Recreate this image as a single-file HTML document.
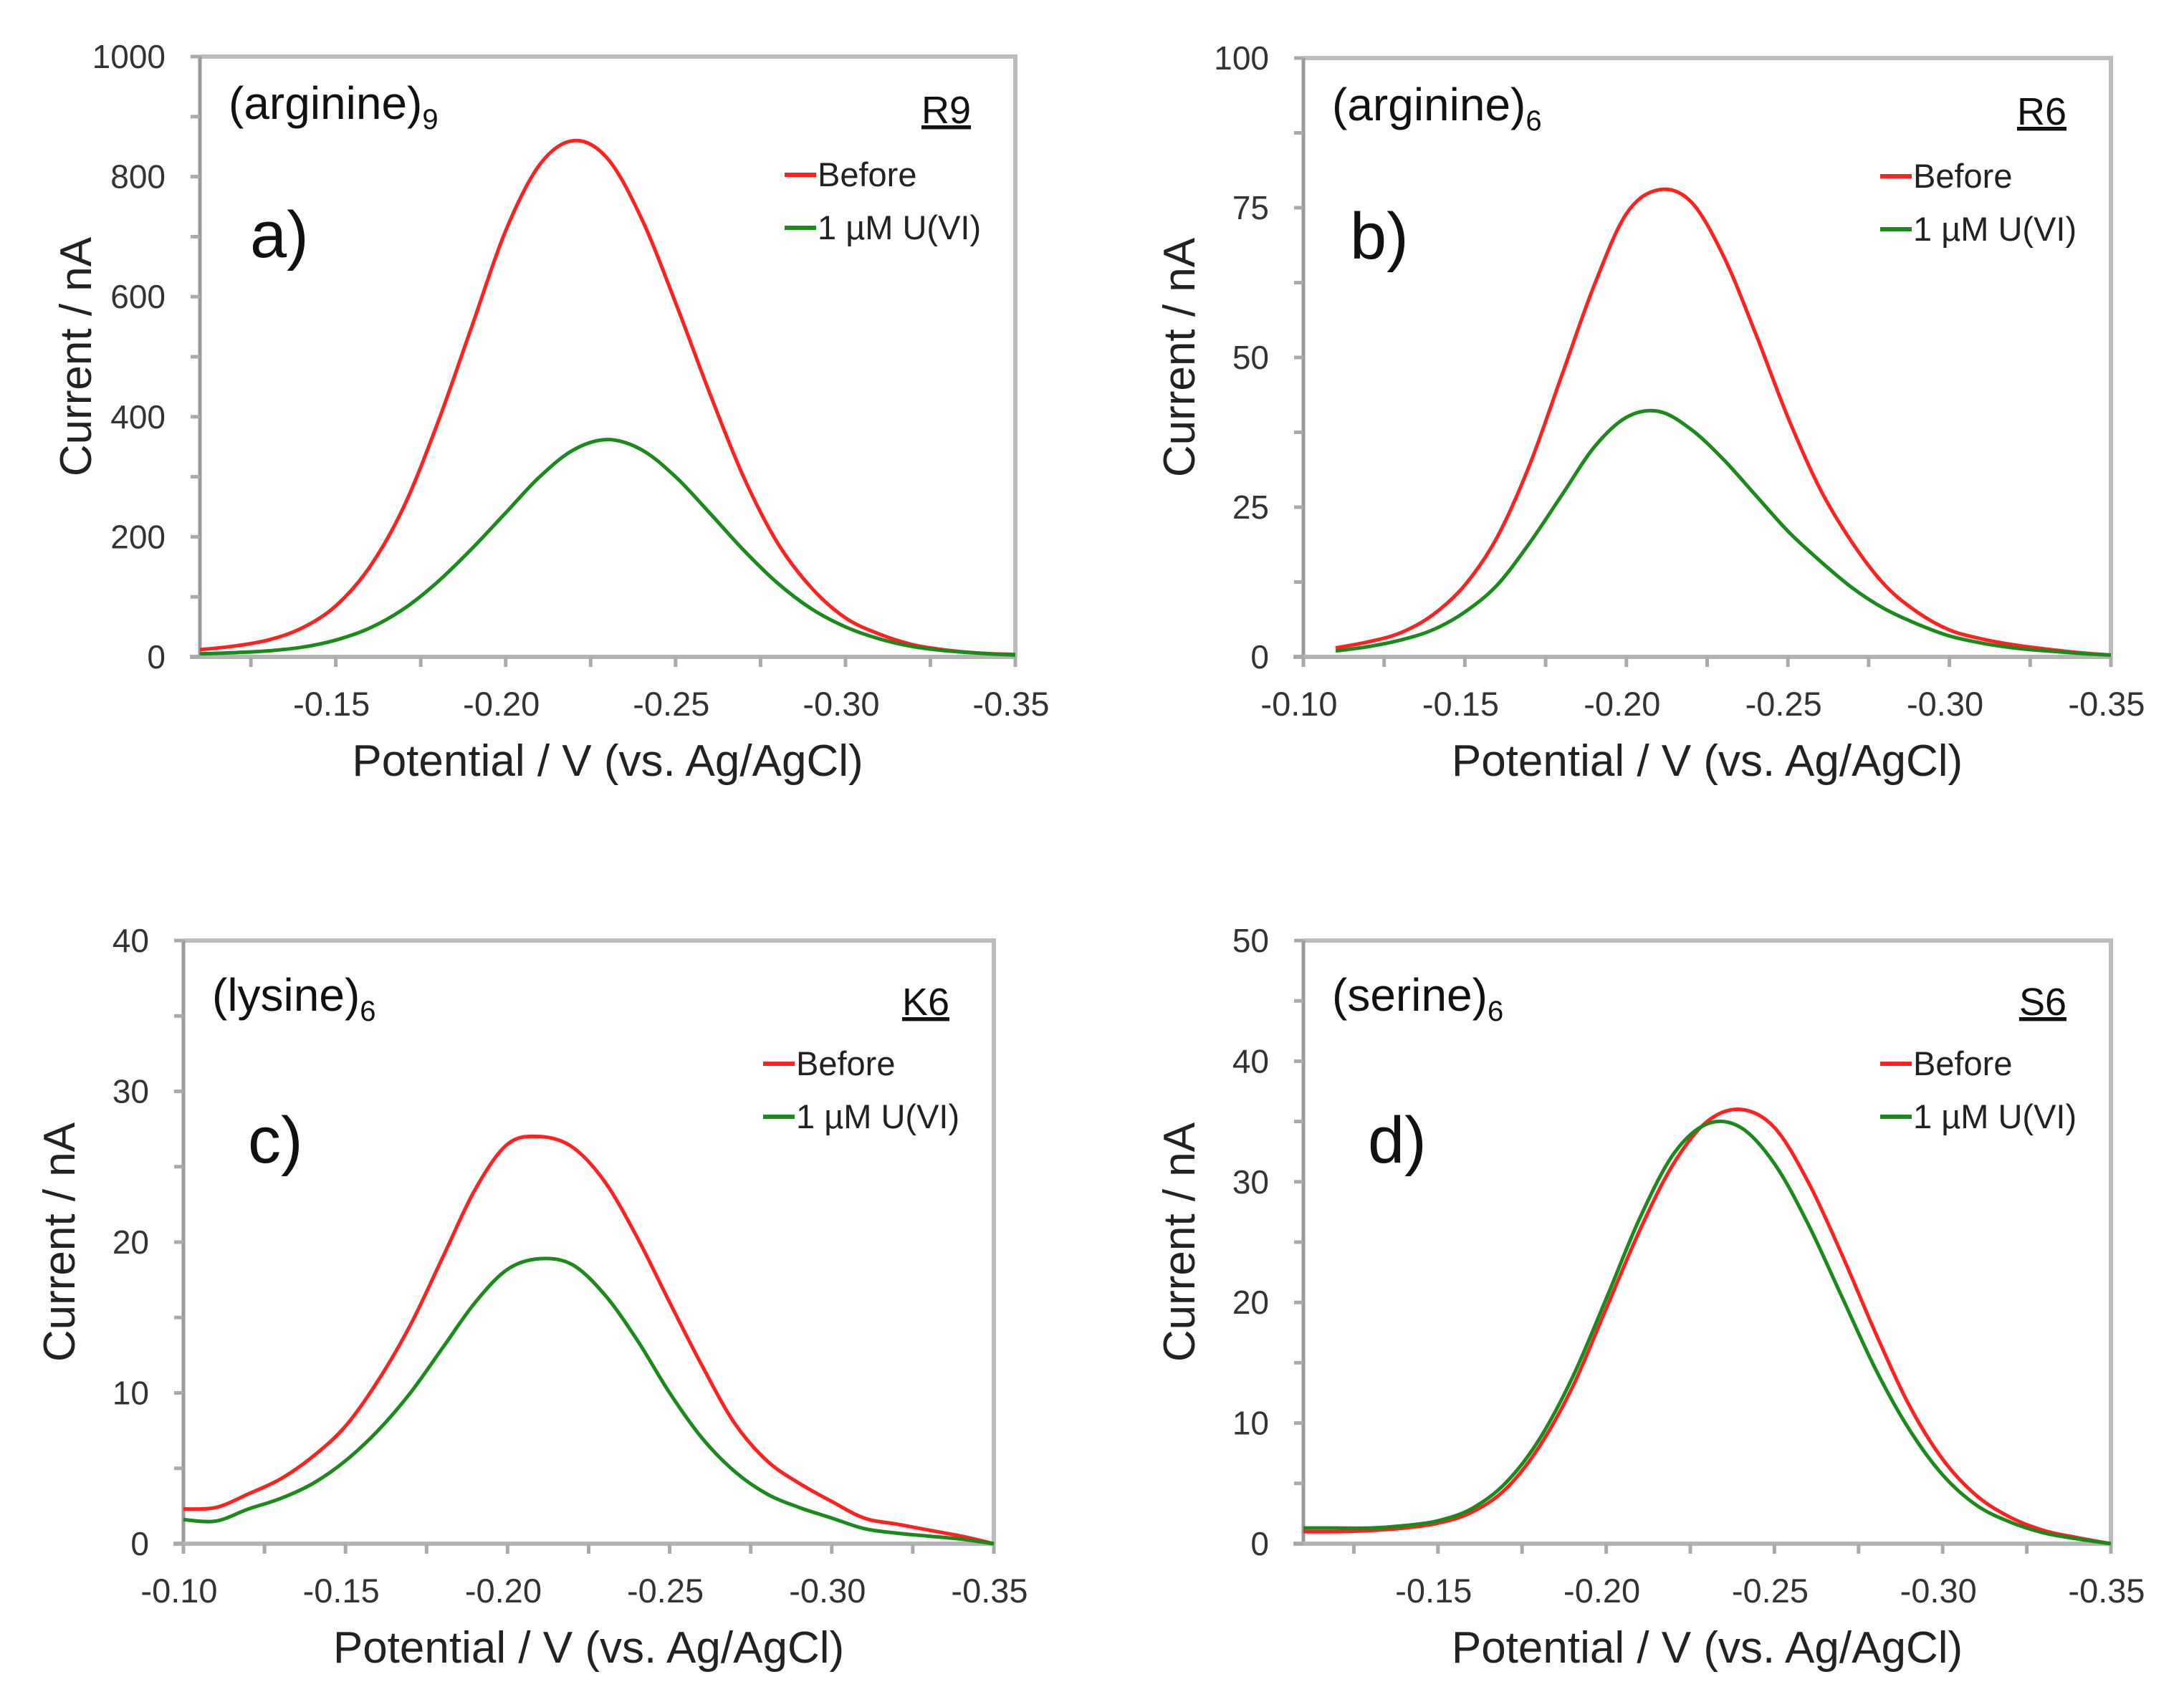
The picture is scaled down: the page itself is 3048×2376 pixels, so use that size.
<!DOCTYPE html>
<html><head><meta charset="utf-8"><style>
body{margin:0;background:#fff;}
svg{display:block;}
text{font-family:"Liberation Sans",sans-serif;}
</style></head><body>
<svg id="fig" width="3048" height="2376" viewBox="0 0 3048 2376" xmlns="http://www.w3.org/2000/svg"></svg>
<script>
// ---- data ----
const xsA = [-0.11,-0.12,-0.13,-0.14,-0.15,-0.16,-0.17,-0.18,-0.19,-0.20,-0.21,-0.22,-0.23,-0.24,-0.25,-0.26,-0.27,-0.28,-0.29,-0.30,-0.31,-0.32,-0.33,-0.34,-0.35];
const beforeA = [12,18,28,48,85,150,250,390,550,710,820,860,830,730,590,440,300,190,115,65,38,20,11,6,4];
const uviA = [5,7,10,16,28,48,80,125,180,240,300,345,362,345,300,240,178,123,80,50,30,17,10,6,3];
const xsB = [-0.11,-0.12,-0.13,-0.14,-0.15,-0.16,-0.17,-0.18,-0.19,-0.20,-0.21,-0.22,-0.23,-0.24,-0.25,-0.26,-0.27,-0.28,-0.29,-0.30,-0.31,-0.32,-0.33,-0.34,-0.35];
const beforeB = [1.5,2.5,4,7,12,20,32,47,62,74,78,76,67,54,40,28,19,12,7.5,4.5,3,2,1.3,0.7,0.3];
const uviB = [1,1.7,2.8,4.5,7.5,12,19,27,35,40,41,38,33,27,21,16,11.5,8,5.5,3.5,2.3,1.5,1,0.6,0.3];
const xsC = [-0.10,-0.11,-0.12,-0.13,-0.14,-0.15,-0.16,-0.17,-0.18,-0.19,-0.20,-0.21,-0.22,-0.23,-0.24,-0.25,-0.26,-0.27,-0.28,-0.29,-0.30,-0.31,-0.32,-0.33,-0.34,-0.35];
const beforeC = [2.3,2.4,3.3,4.3,5.8,7.8,10.8,14.5,19,23.5,26.5,27,26.3,24,20.3,16,11.8,8,5.5,4,2.8,1.7,1.3,0.9,0.5,0];
const uviC = [1.6,1.5,2.3,3,4,5.5,7.5,10,13,16,18.2,18.9,18.5,16.5,13.5,10,7,4.8,3.3,2.4,1.7,1,0.7,0.5,0.3,0];
const xsD = [-0.11,-0.12,-0.13,-0.14,-0.15,-0.16,-0.17,-0.18,-0.19,-0.20,-0.21,-0.22,-0.23,-0.24,-0.25,-0.26,-0.27,-0.28,-0.29,-0.30,-0.31,-0.32,-0.33,-0.34,-0.35];
const beforeD = [1,1,1.1,1.3,1.7,2.6,4.5,8,13,19.5,26,31.5,35,36,34.5,30,24,17.5,11.5,7,4,2.2,1.1,0.5,0];
const uviD = [1.3,1.3,1.3,1.5,1.9,2.9,5,8.6,13.8,20.3,27,32.3,34.8,34.5,31.5,26.5,20.5,14.5,9.5,5.7,3.2,1.8,0.9,0.4,0];
const xTicksA = [-0.15,-0.20,-0.25,-0.30,-0.35];
const xTicksB = [-0.10,-0.15,-0.20,-0.25,-0.30,-0.35];
const yTicksA = [0,200,400,600,800,1000];
const yTicksB = [0,25,50,75,100];
const yTicksC = [0,10,20,30,40];
const yTicksD = [0,10,20,30,40,50];

const NS="http://www.w3.org/2000/svg";
const svg=document.getElementById('fig');
function mk(tag,attrs,parent){const e=document.createElementNS(NS,tag);for(const k in attrs)e.setAttribute(k,attrs[k]);(parent||svg).appendChild(e);return e;}
function smooth(pts){let d=`M${pts[0][0]},${pts[0][1]}`;for(let i=0;i<pts.length-1;i++){const p0=pts[Math.max(0,i-1)],p1=pts[i],p2=pts[i+1],p3=pts[Math.min(pts.length-1,i+2)];const c1=[p1[0]+(p2[0]-p0[0])/6,p1[1]+(p2[1]-p0[1])/6],c2=[p2[0]-(p3[0]-p1[0])/6,p2[1]-(p3[1]-p1[1])/6];d+=`C${c1[0]},${c1[1]} ${c2[0]},${c2[1]} ${p2[0]},${p2[1]}`;}return d;}

function panel(o){
  const g=mk('g',{});
  
  
  const {L,R,T,B,x0,x1,ymax}=o;
  const xs=v=>L+(v-x0)/(x1-x0)*(R-L);
  const ys=v=>B-v/ymax*(B-T);
  const fr=mk('path',{d:`M${L},${T}H${R}V${B}`,fill:'none',stroke:'#bcbcbc','stroke-width':6},g);
  
  
  const ya=mk('line',{x1:L,y1:T,x2:L,y2:B,stroke:'#999','stroke-width':5},g);
  
  
  const xa=mk('line',{x1:L-14,y1:B,x2:R,y2:B,stroke:'#b4b4b4','stroke-width':6},g);
  
  
  const step=o.yt[1]-o.yt[0];
  for(let v=0;v<=ymax+1e-9;v+=step/2){mk('line',{x1:L-13,y1:ys(v),x2:L,y2:ys(v),stroke:'#aaa','stroke-width':5},g);}
  o.yt.forEach(v=>{const t=mk('text',{x:L-48,y:ys(v)+16,'text-anchor':'end','font-size':46,fill:'#333'},g);t.textContent=v;
    
    });
  for(let v=-0.35;v<=x0+1e-9;v+=0.025){mk('line',{x1:xs(v),y1:B,x2:xs(v),y2:B+14,stroke:'#aaa','stroke-width':5},g);}
  o.xt.forEach(v=>{const t=mk('text',{x:xs(v)-6,y:B+82,'text-anchor':'middle','font-size':47,fill:'#333'},g);t.textContent=v.toFixed(2);
    
    });
  const xt=mk('text',{x:(L+R)/2,y:B+166,'text-anchor':'middle','font-size':62,fill:'#222'},g);xt.textContent='Potential / V (vs. Ag/AgCl)';
  
  
  const cy=(T+B)/2;
  const yt=mk('text',{x:0,y:0,transform:`translate(${L-152},${cy}) rotate(-90)`,'text-anchor':'middle','font-size':62,fill:'#222'},g);yt.textContent='Current / nA';
  
  
  const ln=(arr,col,name)=>{const p=mk('path',{d:smooth(o.xs.map((x,i)=>[xs(x),ys(arr[i])])),fill:'none',stroke:col,'stroke-width':5},g);
    
    };
  ln(o.before,'#ff2020','before-line');
  ln(o.uvi,'#1a8a1a','uvi-line');
  const tt=mk('text',{x:L+40,y:T+o.titleDy,'font-size':64,fill:'#111'},g);
  tt.innerHTML=o.title+'<tspan font-size="40" dy="14">'+o.sub+'</tspan>';
  
  
  const lb=mk('text',{x:L+o.lblDx,y:T+o.lblDy,'font-size':92,fill:'#111'},g);lb.textContent=o.id+')';
  
  
  const cd=mk('text',{x:R-62,y:T+o.titleDy+6,'text-anchor':'end','font-size':54,fill:'#111','text-decoration':'underline'},g);cd.textContent=o.code;
  
  
  [['Before','#ff2020',o.legDy],['1 µM U(VI)','#1a8a1a',o.legDy+74]].forEach(([txt,col,dy])=>{
    const e=mk('g',{},g);
    
    
    mk('line',{x1:R-o.legDx,y1:T+dy,x2:R-o.legDx+44,y2:T+dy,stroke:col,'stroke-width':6},e);
    const t=mk('text',{x:R-o.legDx+46,y:T+dy+16,'font-size':47,fill:'#222'},e);t.textContent=txt;});
}
panel({id:'a',L:279,R:1417,T:79,B:917,x0:-0.11,x1:-0.35,ymax:1000,yt:yTicksA,xt:xTicksA,xs:xsA,before:beforeA,uvi:uviA,title:'(arginine)',sub:'9',code:'R9',titleDy:87,lblDx:70,lblDy:280,legDy:165,legDx:322});
panel({id:'b',L:1819,R:2946,T:81,B:917,x0:-0.10,x1:-0.35,ymax:100,yt:yTicksB,xt:xTicksB,xs:xsB,before:beforeB,uvi:uviB,title:'(arginine)',sub:'6',code:'R6',titleDy:87,lblDx:65,lblDy:280,legDy:165,legDx:322});
panel({id:'c',L:256,R:1387,T:1313,B:2155,x0:-0.10,x1:-0.35,ymax:40,yt:yTicksC,xt:xTicksB,xs:xsC,before:beforeC,uvi:uviC,title:'(lysine)',sub:'6',code:'K6',titleDy:98,lblDx:90,lblDy:310,legDy:172,legDx:322});
panel({id:'d',L:1819,R:2946,T:1313,B:2155,x0:-0.11,x1:-0.35,ymax:50,yt:yTicksD,xt:xTicksA,xs:xsD,before:beforeD,uvi:uviD,title:'(serine)',sub:'6',code:'S6',titleDy:98,lblDx:90,lblDy:310,legDy:172,legDx:322});
</script>
</body></html>
